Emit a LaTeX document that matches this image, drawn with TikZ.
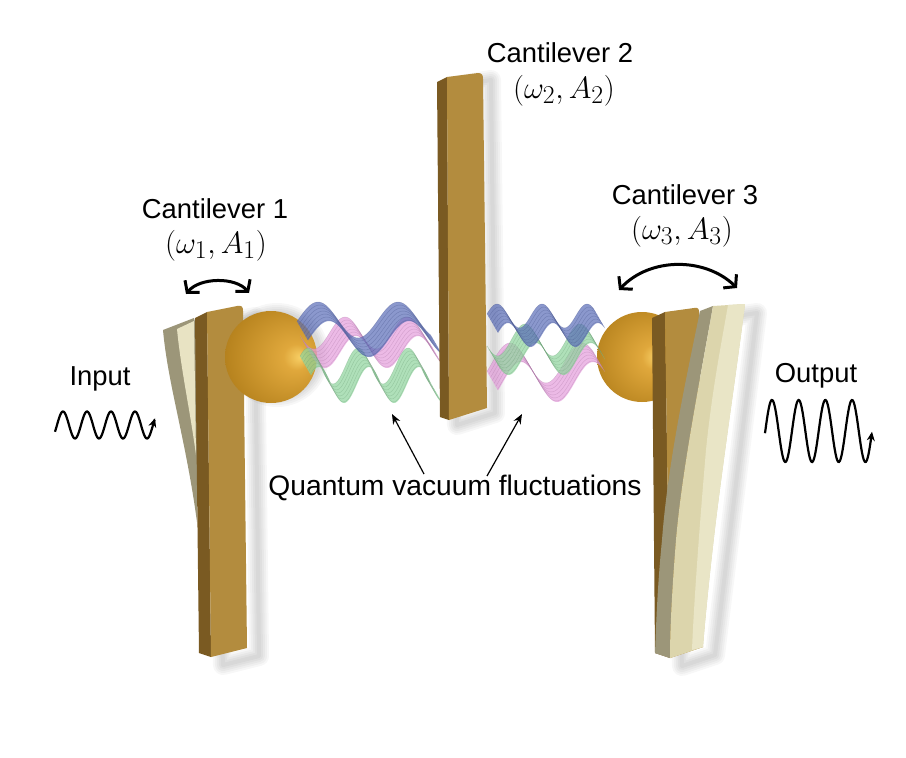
\documentclass[tikz,border=0pt]{standalone}
\usepackage{fontspec}
\setmainfont{Liberation Sans}
\usetikzlibrary{arrows.meta}
\definecolor{goldF}{HTML}{B38C3E}
\definecolor{goldD}{HTML}{7A5A22}
\definecolor{ghostG}{HTML}{9C9679}
\definecolor{ghostB}{HTML}{E8E3C3}
\definecolor{ghostC}{HTML}{DCD5AC}
\definecolor{ghostL}{HTML}{E9E5C6}
\definecolor{wblue}{HTML}{5A6DB8}
\definecolor{wpink}{HTML}{E49EDC}
\definecolor{wgreen}{HTML}{8ED49C}
\definecolor{sphA}{HTML}{F8D066}
\definecolor{sphB}{HTML}{E0A83C}
\definecolor{sphC}{HTML}{B8841F}
\definecolor{sphD}{HTML}{7E5812}
\pgfdeclareradialshading{goldballA}{\pgfpoint{16bp}{0bp}}{color(0bp)=(sphA); color(7bp)=(sphB); color(30bp)=(sphC); color(50bp)=(sphD)}
\pgfdeclareradialshading{goldballB}{\pgfpoint{8bp}{0bp}}{color(0bp)=(sphA); color(7bp)=(sphB); color(30bp)=(sphC); color(50bp)=(sphD)}
\newcommand\qvrib[7]{%
  \fill[#1, opacity=0.7] plot[domain=#2:#3, samples=80, smooth] (\x,{#4-#5*cos((\x-#7)/#6*360)}) -- plot[domain=#3:#2, samples=80, smooth] ({\x+11},{#4-#5*cos((\x-#7)/#6*360)+19}) -- cycle;
  \foreach \i in {0,3,...,18}{%
    \draw[#1!75!black, line width=0.4pt, opacity=0.4] plot[domain=#2:#3, samples=60, smooth] ({\x+\i*0.58},{#4-#5*cos((\x-#7)/#6*360)+\i*1.0});
  }%
}
\begin{document}
\begin{tikzpicture}[x=1pt,y=-1pt,
  lbl/.style={font=\fontsize{27.4}{32}\selectfont, inner sep=0pt},
  swing/.style={line width=3pt, {Straight Barb[length=8pt,width=19pt]}-{Straight Barb[length=8pt,width=19pt]}},
  ptr/.style={line width=1.2pt, -{Stealth[length=10pt,width=8pt]}},
  sigwave/.style={line width=2.2pt, -{Stealth[length=9pt,width=8pt]}},
  shad/.style={black, opacity=0.03, line join=round}]
\useasboundingbox (0,0) rectangle (906,758);
\fill[white] (0,0) rectangle (906,758);

% ---- shadows
\foreach \w in {20,16,12,8,4}{
  \draw[shad, line width=\w pt, shift={(12,8)}] (199,318) -- (243,309) -- (247,648) -- (211,657) -- cycle;
  \draw[shad, line width=\w pt, shift={(12,8)}] (656,318) -- (745,305) -- (703,647) -- (670,658) -- cycle;
  \draw[shad, line width=\w pt, shift={(8,5)}] (441,82) -- (483,75) -- (487,408) -- (449,420) -- cycle;
  \draw[shad, line width=\w pt, shift={(6,-2)}] (271,357) circle[radius=42];
}

% ---- cantilever 1 ghost (behind)
\fill[ghostG] (163,330) -- (194,318) -- (197,330) -- (197,522) .. controls (186,440) and (168,385) .. (163,330) -- cycle;
\fill[ghostB] (177,329) -- (194,321) -- (196,455) .. controls (190,410) and (181,370) .. (177,329) -- cycle;
% ---- cantilever 1
\fill[goldD] (195,318) -- (207,312) -- (211,657) -- (199,653) -- cycle;
\fill[goldF] (207,312) -- (237,306) .. controls (242,305) and (243,307) .. (243,311) -- (247,648) -- (211,657) -- cycle;
% ---- sphere 1
\shade[shading=goldballA] (271,357) circle[radius=46];

% ---- sphere 3
\shade[shading=goldballB] (642,357) circle[radius=45];
% ---- cantilever 3
\fill[goldD] (652,318) -- (665,312) -- (670,658) -- (655,653) -- cycle;
\fill[goldF] (665,312) -- (694,308) .. controls (698,307) and (699,309) .. (699,312) -- (703,647) -- (670,658) -- cycle;
% ---- cantilever 3 ghost (in front)
\fill[ghostG] (700,311) -- (713,306) .. controls (700,380) and (682,470) .. (676,540) .. controls (672,590) and (670,630) .. (670,658) -- (655,653) .. controls (656,630) and (657,590) .. (662,540) .. controls (668,460) and (688,370) .. (700,311) -- cycle;
\fill[ghostC] (713,306) -- (745,304) .. controls (738,360) and (726,440) .. (716,520) .. controls (710,570) and (705,620) .. (703,647) -- (670,658) .. controls (670,630) and (672,590) .. (676,540) .. controls (682,470) and (700,380) .. (713,306) -- cycle;
\fill[ghostL] (728,305) -- (745,304) .. controls (738,360) and (726,440) .. (716,520) .. controls (710,570) and (705,620) .. (703,647) -- (692,650) .. controls (694,600) and (700,520) .. (706,450) .. controls (712,390) and (722,340) .. (728,305) -- cycle;

% ---- quantum vacuum fluctuation ribbons
\qvrib{wpink}{300}{431}{333}{16}{62}{345}
\qvrib{wgreen}{300}{431}{366}{18}{50}{358}
\qvrib{wblue}{297}{431}{320}{18}{80}{318}
\qvrib{wpink}{487}{594}{363}{20}{72}{510}
\qvrib{wgreen}{487}{594}{340}{16}{55}{525}
\qvrib{wblue}{487}{594}{316}{12}{45}{497}

% ---- cantilever 2
\fill[goldD] (437,82) -- (447,77) -- (449,420) -- (440,417) -- cycle;
\fill[goldF] (447,77) -- (478,73) .. controls (482,73) and (483,75) .. (483,79) -- (487,408) -- (449,420) -- cycle;

% ---- labels
\node[lbl, anchor=base] (c2) at (560,62.7) {Cantilever 2};
\node[lbl, anchor=base] (p2) at (564,98) {\scalebox{1.24}{$(\omega_2, A_2)$}};
\node[lbl, anchor=base] (c1) at (215,218) {Cantilever 1};
\node[lbl, anchor=base] (p1) at (216,253) {\scalebox{1.24}{$(\omega_1, A_1)$}};
\node[lbl, anchor=base] (c3) at (685,204) {Cantilever 3};
\node[lbl, anchor=base] (p3) at (682,239) {\scalebox{1.24}{$(\omega_3, A_3)$}};
\node[lbl, anchor=base] (inp) at (100,385) {Input};
\node[lbl, anchor=base] (outp) at (816,382) {Output};
\node[lbl, font=\fontsize{28.2}{32}\selectfont, anchor=base] (qvf) at (455,495) {Quantum vacuum fluctuations};

% ---- swing arrows
\coordinate (a1l) at (186,294);
\coordinate (a1r) at (249,293);
\draw[swing] (a1l) .. controls (200,277) and (236,277) .. (a1r);
\coordinate (a3l) at (619,290);
\coordinate (a3r) at (737,288);
\draw[swing] (a3l) .. controls (650,257) and (705,257) .. (a3r);

% ---- pointers
\coordinate (s1) at (424,474);
\coordinate (t1) at (392,414);
\coordinate (s2) at (487,476);
\coordinate (t2) at (522,414);
\draw[ptr] (s1) -- (t1);
\draw[ptr] (s2) -- (t2);

% ---- signals
\draw[sigwave] plot[domain=55:155, samples=140, smooth] (\x, {425-13.5*sin((\x-57)*15)});
\draw[sigwave] plot[domain=765:872, samples=160, smooth] (\x, {431-31*sin((\x-765.3)/26.7*360)});
\end{tikzpicture}
\end{document}
